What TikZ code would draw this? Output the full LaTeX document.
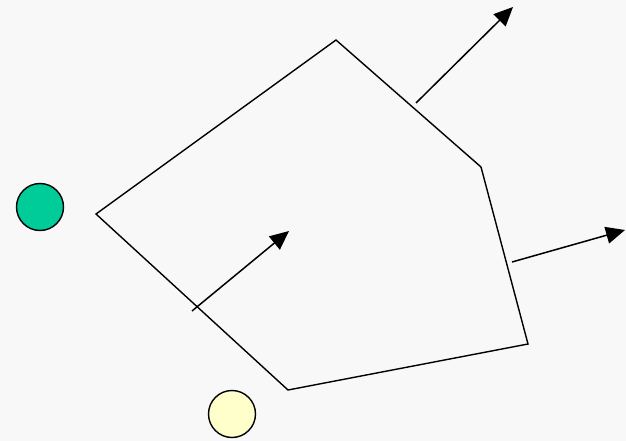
\documentclass[tikz,border=0pt]{standalone}
\usetikzlibrary{arrows.meta}
\definecolor{bgc}{HTML}{F8F8F8}
\definecolor{greenc}{HTML}{00CC99}
\definecolor{yellowc}{HTML}{FFFFCC}
\tikzset{
  outline/.style={draw=black, line width=1.4pt, line join=miter},
  vec/.style={draw=black, line width=1.5pt, -{Triangle[length=19pt,width=17pt]}},
  dot/.style={circle, draw=black, line width=1.4pt, minimum size=47pt, inner sep=0pt}
}
\begin{document}
\begin{tikzpicture}[x=1pt,y=-1pt]
\fill[bgc] (0,0) rectangle (626,441);
\useasboundingbox (0,0) rectangle (626,441);
\coordinate (p1) at (336,40);
\coordinate (p2) at (481,167);
\coordinate (p3) at (528,344);
\coordinate (p4) at (288,390);
\coordinate (p5) at (96,214);
\path[outline] (p1) -- (p2) -- (p3) -- (p4) -- (p5) -- cycle;
\coordinate (a1s) at (416,103);
\coordinate (a1e) at (513,7);
\coordinate (a2s) at (512,262);
\coordinate (a2e) at (625,230);
\coordinate (a3s) at (192,311);
\coordinate (a3e) at (289,231);
\draw[vec] (a1s) -- (a1e);
\draw[vec] (a2s) -- (a2e);
\draw[vec] (a3s) -- (a3e);
\node[dot, fill=greenc] (g) at (40,207) {};
\node[dot, fill=yellowc] (y) at (232,414) {};
\end{tikzpicture}
\end{document}
